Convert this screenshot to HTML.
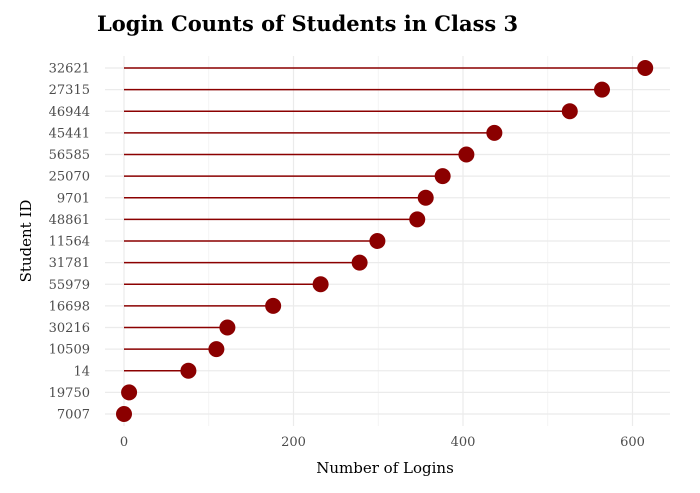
<!DOCTYPE html>
<html><head><meta charset="utf-8"><style>
body{margin:0;background:#fff;}
svg{font-family:"DejaVu Serif","Liberation Serif",serif;}
</style></head><body>
<svg id="chart" width="700" height="488" viewBox="0 0 700 488">
<text x="97" y="31" font-size="21" font-weight="bold" fill="#000">Login Counts of Students in Class 3</text>
<g id="grid"></g><g id="marks"></g><g id="axes"></g>
<text x="385" y="473" font-size="15" text-anchor="middle" fill="#000">Number of Logins</text>
<text transform="translate(31,241) rotate(-90)" font-size="15" text-anchor="middle" fill="#000">Student ID</text>
</svg>
<script>
const categories=["32621","27315","46944","45441","56585","25070","9701","48861","11564","31781","55979","16698","30216","10509","14","19750","7007"];
const logins=[615,564,526,437,404,376,356,346,299,278,232,176,122,109,76,6,0];
const xTicks=[0,200,400,600];
const xMinor=[100,300,500];
const NS="http://www.w3.org/2000/svg";
const xs=v=>124+v*0.8475;
const ys=i=>68+i*(414-68)/(categories.length-1);
const pLeft=105,pRight=670,pTop=56,pBottom=426;
function mk(tag,attrs,parent){const e=document.createElementNS(NS,tag);for(const k in attrs)e.setAttribute(k,attrs[k]);document.getElementById(parent).appendChild(e);return e;}
xMinor.forEach(v=>{const l=mk('line',{x1:xs(v),x2:xs(v),y1:pTop,y2:pBottom,stroke:'#f2f2f2','stroke-width':0.8},'grid');

});
xTicks.forEach(v=>{const l=mk('line',{x1:xs(v),x2:xs(v),y1:pTop,y2:pBottom,stroke:'#ebebeb','stroke-width':1.2},'grid');


const t=mk('text',{x:xs(v),y:446,'font-size':13,'text-anchor':'middle',fill:'#4d4d4d'},'axes');t.textContent=v;

});
categories.forEach((c,i)=>{const g=mk('line',{x1:pLeft,x2:pRight,y1:ys(i),y2:ys(i),stroke:'#ebebeb','stroke-width':1.2},'grid');


const t=mk('text',{x:90,y:ys(i)+4.5,'font-size':13,'text-anchor':'end',fill:'#4d4d4d'},'axes');t.textContent=c;


const s=mk('line',{x1:xs(0),x2:xs(logins[i]),y1:ys(i),y2:ys(i),stroke:'#8b0000','stroke-width':1.5},'marks');


const p=mk('circle',{cx:xs(logins[i]),cy:ys(i),r:8,fill:'#8b0000'},'marks');

});
</script>
</body></html>
